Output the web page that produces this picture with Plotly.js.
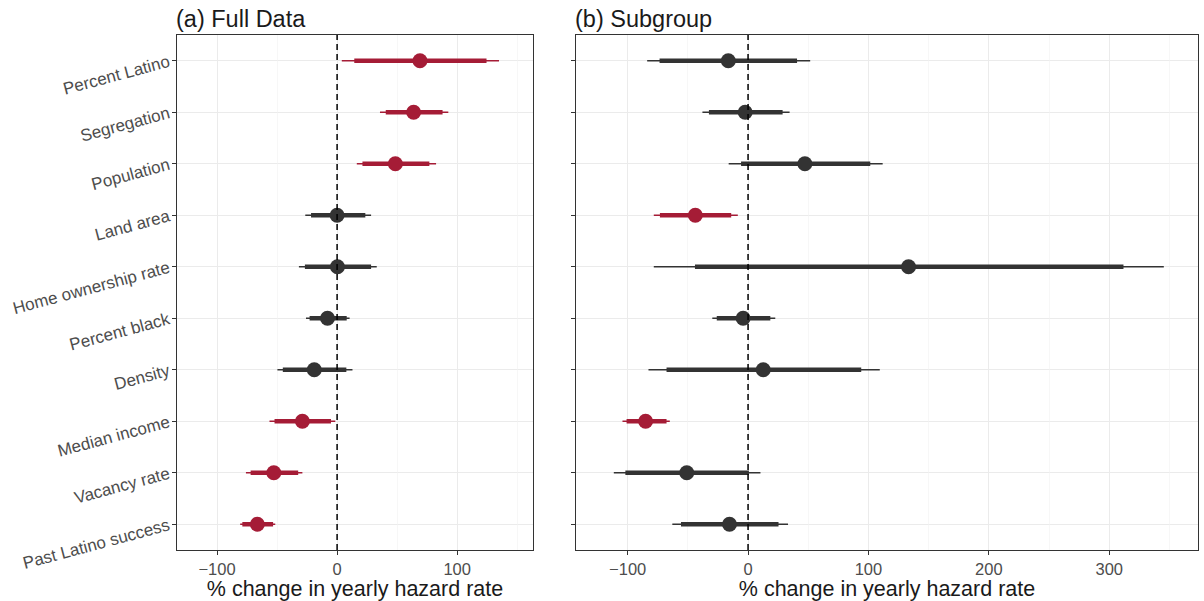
<!DOCTYPE html>
<html>
<head>
<meta charset="utf-8">
<script src="https://cdn.plot.ly/plotly-3.0.1.min.js"></script>
<style>
  html, body { margin: 0; padding: 0; background: #ffffff; }
  #chart { width: 1204px; height: 601px; }
</style>
</head>
<body>
<div id="chart"></div>
<script>
// Model terms, listed top to bottom
const terms = [
  "Percent Latino", "Segregation", "Population", "Land area",
  "Home ownership rate", "Percent black", "Density", "Median income",
  "Vacancy rate", "Past Latino success"
];

// (a) Full Data: estimates with 90% (thick) and 95% (thin) intervals
const fullEst  = [69.0, 63.7, 48.5, 0.0, 0.3, -8.0, -19.0, -28.9, -52.7, -66.4];
const fullLo90 = [14.3, 40.5, 21.1, -21.7, -26.8, -22.9, -45.2, -52.1, -72.0, -78.9];
const fullHi90 = [124.4, 87.8, 76.8, 23.5, 28.3, 8.0, 7.7, -5.1, -32.4, -53.3];
const fullLo95 = [3.9, 35.7, 16.4, -26.5, -31.8, -25.9, -49.7, -56.3, -75.9, -80.7];
const fullHi95 = [134.8, 92.6, 82.4, 28.3, 33.0, 10.4, 12.8, -1.5, -28.9, -51.5];

// (b) Subgroup
const subEst  = [-16.4, -2.4, 47.2, -43.8, 133.3, -4.1, 12.6, -85.1, -50.9, -15.4];
const subLo90 = [-73.5, -32.5, -5.8, -73.2, -44.1, -26.0, -67.7, -100.9, -101.9, -55.7];
const subHi90 = [40.7, 28.7, 101.5, -14.0, 311.8, 18.5, 94.0, -67.7, 0.7, 25.3];
const subLo95 = [-83.8, -37.9, -16.1, -78.3, -78.3, -29.7, -82.7, -104.3, -111.5, -62.9];
const subHi95 = [51.6, 34.5, 111.8, -8.5, 345.3, 22.6, 109.4, -65.0, 10.3, 33.2];

const xTickVals = [-100, 0, 100, 200, 300];
const xTickText = ["\u2212100", "0", "100", "200", "300"];
const xMinorVals = [-50, 50, 150, 250, 350];

const RED = "#a51c36";
const DARK = "#333333";
const FONT = "Liberation Sans, Arial, sans-serif";

// Dashed reference line at zero: x = 0 across the full height of an overlay axis with range [0, 1]
function zeroTrace(xa, ya) {
  return { type: "scatter", mode: "lines", x: [0, 0], y: [0, 1], xaxis: xa, yaxis: ya,
    line: { color: "#000000", width: 1.5, dash: "6px,4px" },
    hoverinfo: "skip", showlegend: false };
}

// Build interval lines and points for one panel, coloured by whether the 95% interval excludes zero
function panelTraces(est, lo90, hi90, lo95, hi95, xa, ya) {
  const traces = [];
  [DARK, RED].forEach(function (col) {
    const pick = function (i) {
      const sig = lo95[i] > 0 || hi95[i] < 0;
      return (col === RED) === sig;
    };
    const thinX = [], thinY = [], thickX = [], thickY = [], ptX = [], ptY = [];
    terms.forEach(function (t, i) {
      if (!pick(i)) return;
      thinX.push(lo95[i], hi95[i], null); thinY.push(t, t, null);
      thickX.push(lo90[i], hi90[i], null); thickY.push(t, t, null);
      ptX.push(est[i]); ptY.push(t);
    });
    traces.push({ type: "scatter", mode: "lines", x: thinX, y: thinY, xaxis: xa, yaxis: ya,
      line: { color: col, width: 1.4 }, hoverinfo: "skip", showlegend: false, connectgaps: false });
    traces.push({ type: "scatter", mode: "lines", x: thickX, y: thickY, xaxis: xa, yaxis: ya,
      line: { color: col, width: 4.5 }, hoverinfo: "skip", showlegend: false, connectgaps: false });
    traces.push({ type: "scatter", mode: "markers", x: ptX, y: ptY, xaxis: xa, yaxis: ya,
      marker: { color: col, size: 15, line: { width: 0 } }, showlegend: false });
  });
  return traces;
}

const W = 1204, H = 601;
const yDom = [(H - 550) / H, (H - 35) / H];

function xAxis(domain, range, anchor) {
  return {
    domain: domain, range: range, anchor: anchor,
    tickmode: "array", tickvals: xTickVals, ticktext: xTickText,
    ticks: "outside", ticklen: 4, tickwidth: 1, tickcolor: DARK,
    tickfont: { family: FONT, size: 16.5, color: "#4d4d4d" },
    showgrid: true, gridcolor: "#ebebeb", gridwidth: 1,
    zeroline: false, showline: true, linecolor: DARK, linewidth: 1, mirror: true,
    title: { text: "% change in yearly hazard rate", standoff: 3,
             font: { family: FONT, size: 21.5, color: "#1a1a1a" } },
    automargin: false, fixedrange: true
  };
}

// Minor x grid on overlay axes without ticks or labels
function xMinorAxis(domain, range, anchor, overlay) {
  return {
    domain: domain, range: range, anchor: anchor, overlaying: overlay,
    tickmode: "array", tickvals: xMinorVals, showticklabels: false, ticks: "",
    showgrid: true, gridcolor: "#f2f2f2", gridwidth: 0.6,
    zeroline: false, showline: false, fixedrange: true, layer: "below traces"
  };
}

function yAxis(anchor, showLabels) {
  return {
    domain: yDom, anchor: anchor, type: "category",
    categoryorder: "array", categoryarray: terms,
    range: [9.5, -0.5],
    ticks: "outside", ticklen: 4, tickwidth: 1, tickcolor: DARK,
    showticklabels: showLabels, tickangle: -15,
    tickfont: { family: FONT, size: 17, color: "#4d4d4d" },
    showgrid: true, gridcolor: "#ebebeb", gridwidth: 1,
    zeroline: false, showline: true, linecolor: DARK, linewidth: 1, mirror: true,
    automargin: false, fixedrange: true
  };
}

// Unit overlay axis used only to span the zero line over the full panel height
function yUnitAxis(anchor, overlay) {
  return {
    domain: yDom, anchor: anchor, overlaying: overlay, range: [0, 1],
    showgrid: false, showticklabels: false, ticks: "", zeroline: false, showline: false,
    fixedrange: true
  };
}

const domA = [177 / W, 533 / W], rangeA = [-133.3, 163.1];
const domB = [576 / W, 1198 / W], rangeB = [-142.9, 373.7];

const data = [
  { type: "scatter", mode: "markers", x: [0], y: [terms[0]], xaxis: "x3", yaxis: "y",
    marker: { opacity: 0 }, hoverinfo: "skip", showlegend: false },
  { type: "scatter", mode: "markers", x: [0], y: [terms[0]], xaxis: "x4", yaxis: "y2",
    marker: { opacity: 0 }, hoverinfo: "skip", showlegend: false },
  zeroTrace("x", "y3"),
  zeroTrace("x2", "y4")
]
  .concat(panelTraces(fullEst, fullLo90, fullHi90, fullLo95, fullHi95, "x", "y"))
  .concat(panelTraces(subEst, subLo90, subHi90, subLo95, subHi95, "x2", "y2"));

const layout = {
  width: W, height: H,
  margin: { l: 0, r: 0, t: 0, b: 0 },
  paper_bgcolor: "#ffffff", plot_bgcolor: "#ffffff",
  font: { family: FONT },
  xaxis: xAxis(domA, rangeA, "y"),
  yaxis: yAxis("x", true),
  xaxis2: xAxis(domB, rangeB, "y2"),
  yaxis2: yAxis("x2", false),
  xaxis3: xMinorAxis(domA, rangeA, "y", "x"),
  xaxis4: xMinorAxis(domB, rangeB, "y2", "x2"),
  yaxis3: yUnitAxis("x", "y"),
  yaxis4: yUnitAxis("x2", "y2"),
  annotations: [
    { text: "(a) Full Data", xref: "paper", yref: "paper", x: 174 / W, y: (H - 34) / H,
      xanchor: "left", yanchor: "bottom", showarrow: false,
      font: { family: FONT, size: 23.5, color: "#1a1a1a" } },
    { text: "(b) Subgroup", xref: "paper", yref: "paper", x: 573 / W, y: (H - 34) / H,
      xanchor: "left", yanchor: "bottom", showarrow: false,
      font: { family: FONT, size: 23.5, color: "#1a1a1a" } }
  ]
};

Plotly.newPlot("chart", data, layout, { staticPlot: true, displayModeBar: false });
</script>
</body>
</html>
